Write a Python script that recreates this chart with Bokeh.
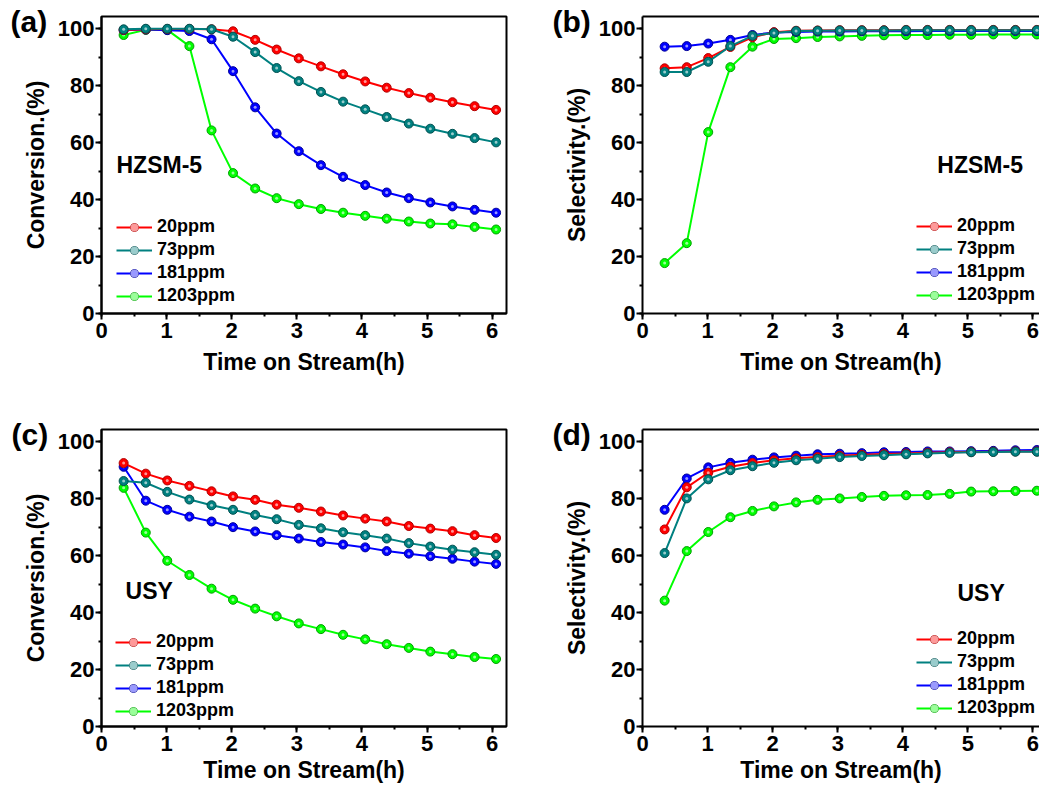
from bokeh.plotting import figure
from bokeh.models import (Range1d, SingleIntervalTicker, LinearAxis, FixedTicker,
                          Legend, LegendItem, Label)
from bokeh.layouts import column, row
from bokeh.embed import file_html
from bokeh.resources import INLINE

# ---------------- data ----------------
time_h = [0.34, 0.68, 1.01, 1.35, 1.69, 2.02, 2.36, 2.69, 3.03, 3.37, 3.71,
          4.05, 4.38, 4.72, 5.05, 5.39, 5.73, 6.06]
series_names = ["20ppm", "73ppm", "181ppm", "1203ppm"]

# (a) HZSM-5 conversion
a_20 = [99.6, 99.8, 99.9, 99.9, 99.8, 99.1, 96.1, 92.7, 89.6, 86.8, 84.0, 81.5, 79.3, 77.4, 75.8, 74.2, 72.8, 71.5]
a_73 = [99.8, 100.0, 100.0, 100.0, 99.8, 97.2, 91.8, 86.2, 81.6, 77.8, 74.4, 71.7, 69.0, 66.7, 64.9, 63.1, 61.6, 60.1]
a_181 = [99.5, 99.7, 99.5, 99.2, 96.3, 85.1, 72.4, 63.2, 57.0, 52.1, 48.0, 45.1, 42.5, 40.5, 39.0, 37.6, 36.4, 35.4]
a_1203 = [97.8, 99.6, 99.6, 93.9, 64.3, 49.3, 43.9, 40.5, 38.4, 36.7, 35.4, 34.3, 33.3, 32.3, 31.6, 31.3, 30.4, 29.5]

# (b) HZSM-5 selectivity
b_20 = [86.1, 86.5, 89.7, 93.6, 97.0, 98.8, 99.3, 99.4, 99.5, 99.5, 99.5, 99.6, 99.6, 99.6, 99.6, 99.6, 99.6, 99.6]
b_73 = [84.8, 84.8, 88.4, 93.9, 97.5, 98.5, 99.2, 99.3, 99.4, 99.4, 99.4, 99.5, 99.5, 99.5, 99.5, 99.5, 99.5, 99.5]
b_181 = [93.7, 93.9, 94.8, 96.1, 97.8, 98.7, 98.9, 99.0, 99.0, 99.1, 99.1, 99.1, 99.2, 99.2, 99.2, 99.2, 99.2, 99.2]
b_1203 = [17.7, 24.7, 63.7, 86.5, 93.7, 96.4, 96.7, 97.1, 97.3, 97.5, 97.7, 97.8, 97.8, 97.9, 97.9, 98.0, 98.0, 98.0]

# (c) USY conversion
c_20 = [92.5, 88.8, 86.4, 84.5, 82.6, 80.8, 79.6, 77.9, 76.8, 75.5, 74.1, 73.0, 72.0, 70.4, 69.5, 68.6, 67.2, 66.2]
c_73 = [86.2, 85.6, 82.4, 79.7, 77.7, 76.1, 74.3, 72.8, 70.8, 69.6, 68.2, 67.2, 66.0, 64.4, 63.2, 62.1, 61.2, 60.3]
c_181 = [91.2, 79.3, 76.1, 73.7, 72.0, 70.0, 68.5, 67.2, 66.0, 64.8, 63.9, 62.9, 61.6, 60.7, 59.8, 58.9, 57.9, 57.1]
c_1203 = [83.8, 68.1, 58.2, 53.2, 48.4, 44.5, 41.4, 38.7, 36.2, 34.2, 32.2, 30.6, 28.9, 27.6, 26.3, 25.4, 24.4, 23.7]

# (d) USY selectivity
d_20 = [69.2, 84.0, 89.1, 91.2, 92.5, 93.5, 94.2, 94.6, 95.1, 95.4, 95.7, 95.9, 96.1, 96.3, 96.4, 96.5, 96.6, 96.6]
d_73 = [60.9, 80.1, 86.8, 90.0, 91.4, 92.6, 93.5, 94.0, 94.6, 95.0, 95.3, 95.6, 95.9, 96.1, 96.3, 96.4, 96.5, 96.5]
d_181 = [76.1, 87.1, 91.0, 92.6, 93.7, 94.5, 95.1, 95.6, 95.8, 96.0, 96.3, 96.4, 96.6, 96.6, 96.7, 96.8, 97.0, 97.1]
d_1203 = [44.2, 61.6, 68.3, 73.5, 75.7, 77.3, 78.7, 79.6, 80.1, 80.6, 81.0, 81.2, 81.3, 81.7, 82.5, 82.6, 82.7, 82.8]

colors = ["#FF0000", "#008080", "#0000FF", "#00FF00"]
edge_colors = ["#B00000", "#005050", "#000099", "#00A000"]
draw_order = [3, 2, 0, 1]

FONT = "Liberation Sans"


def style_axis(ax):
    ax.axis_line_width = 2
    ax.major_tick_line_width = 2
    ax.minor_tick_line_width = 2
    ax.major_tick_out = 6
    ax.major_tick_in = 0
    ax.minor_tick_out = 3
    ax.minor_tick_in = 0
    ax.major_label_text_font = FONT
    ax.major_label_text_font_style = "bold"
    ax.major_label_text_font_size = "22px"
    ax.major_label_text_color = "black"
    ax.axis_label_text_font = FONT
    ax.axis_label_text_font_style = "bold"
    ax.axis_label_text_font_size = "23px"
    ax.axis_label_text_color = "black"


def make_panel(width, height, mb_left, mb_right, mb_top, mb_bottom, x_end,
               ylabel, data, tag, tag_offset, name, name_xy, legend_loc,
               open_right, xlabel_standoff):
    p = figure(width=width, height=height, output_backend="svg",
               toolbar_location=None, x_range=Range1d(0, x_end),
               y_range=Range1d(0, 104.3),
               min_border_left=mb_left, min_border_right=mb_right,
               min_border_top=mb_top, min_border_bottom=mb_bottom,
               background_fill_color="white", border_fill_color="white")
    p.xgrid.visible = False
    p.ygrid.visible = False

    # panel tag "(a)" etc. drawn as the plot title, pulled beside the frame
    p.title.text = tag
    p.title.align = "left"
    p.title.offset = tag_offset
    p.title.standoff = -43
    p.title.vertical_align = "bottom"
    p.title.text_font = FONT
    p.title.text_font_style = "bold"
    p.title.text_font_size = "30px"
    p.title.text_color = "black"

    xax = p.below[0]
    yax = p.left[0]
    xax.ticker = SingleIntervalTicker(interval=1, num_minor_ticks=2)
    yax.ticker = SingleIntervalTicker(interval=20, num_minor_ticks=2)
    style_axis(xax)
    style_axis(yax)
    xax.axis_label = "Time on Stream(h)"
    yax.axis_label = ylabel
    xax.major_label_standoff = 3
    xax.axis_label_standoff = xlabel_standoff
    yax.major_label_standoff = 1
    yax.axis_label_standoff = 6

    if open_right:
        p.outline_line_color = None
        top = LinearAxis(ticker=FixedTicker(ticks=[]), axis_line_width=2,
                         major_label_text_font_size="0px",
                         major_tick_out=0, minor_tick_out=0,
                         major_tick_in=0, minor_tick_in=0)
        p.add_layout(top, "above")
    else:
        p.outline_line_color = "black"
        p.outline_line_width = 2
        p.outline_line_alpha = 1.0

    items = [None] * 4
    for i in draw_order:
        vals = data[i]
        ln = p.line(time_h, vals, line_color=colors[i], line_width=2)
        sc = p.scatter(time_h, vals, size=9, fill_color=colors[i],
                       line_color=edge_colors[i], line_width=1)
        hl = p.scatter(time_h, vals, size=3, fill_color="white",
                       fill_alpha=0.6, line_color=None)
        items[i] = LegendItem(label=series_names[i], renderers=[ln, sc, hl])

    legend = Legend(items=items, location=legend_loc, padding=0, margin=0,
                    border_line_color=None, background_fill_alpha=0,
                    glyph_width=36, glyph_height=20, label_height=20,
                    label_standoff=5, spacing=2,
                    label_text_font=FONT, label_text_font_style="bold",
                    label_text_font_size="18px", label_text_color="black")
    p.add_layout(legend, "center")

    p.add_layout(Label(x=name_xy[0], y=name_xy[1], text=name,
                       text_align="left", text_baseline="middle",
                       text_font=FONT, text_font_style="bold",
                       text_font_size="23px", text_color="black"))
    return p


pa = make_panel(540, 401, 101, 34, 16, 88, 6.22, "Conversion.(%)",
                [a_20, a_73, a_181, a_1203], "(a)", -91, "HZSM-5",
                (0.23, 52.2), (15, 7), False, 8)
pb = make_panel(499, 401, 102, 0, 16, 88, 6.10, "Selectivity.(%)",
                [b_20, b_73, b_181, b_1203], "(b)", -90, "HZSM-5",
                (4.53, 52.2), (274, 8), True, 8)
pc = make_panel(540, 386, 101, 34, 28, 61, 6.22, "Conversion.(%)",
                [c_20, c_73, c_181, c_1203], "(c)", -90, "USY",
                (0.37, 47.6), (14, 5), False, 3)
pd = make_panel(499, 386, 102, 0, 28, 61, 6.10, "Selectivity.(%)",
                [d_20, d_73, d_181, d_1203], "(d)", -90, "USY",
                (4.84, 46.9), (274, 8), True, 3)

layout = column(row(pa, pb), row(pc, pd))
open("out.html", "w").write(file_html(layout, INLINE))
